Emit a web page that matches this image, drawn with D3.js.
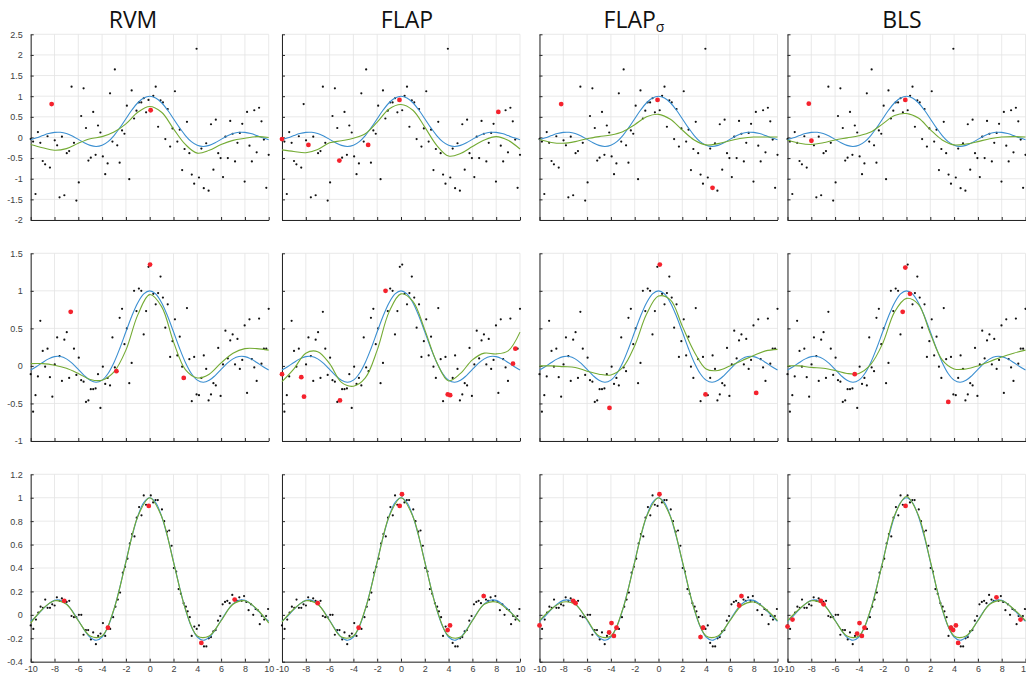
<!DOCTYPE html>
<html>
<head>
<meta charset="utf-8">
<script src="https://cdn.jsdelivr.net/npm/d3@7"></script>
<style>
  body { margin: 0; background: #fff; }
</style>
</head>
<body>
<div id="mainChart"></div>
<script>
const width = 1026;
const height = 676;

// ---- data ----
const titles = ["RVM", "FLAP", "FLAP", "BLS"];
const titleSubs = ["", "", "σ", ""];

const xTicks = [-10, -8, -6, -4, -2, 0, 2, 4, 6, 8, 10];
const yTicksRow1 = [-2, -1.5, -1, -0.5, 0, 0.5, 1, 1.5, 2, 2.5];
const yTicksRow2 = [-1, -0.5, 0, 0.5, 1, 1.5];
const yTicksRow3 = [-0.4, -0.2, 0, 0.2, 0.4, 0.6, 0.8, 1, 1.2];

// true function (blue), sampled every 0.5
const sincX = [-10, -9.5, -9, -8.5, -8, -7.5, -7, -6.5, -6, -5.5, -5, -4.5, -4, -3.5, -3, -2.5, -2, -1.5, -1, -0.5,
  0, 0.5, 1, 1.5, 2, 2.5, 3, 3.5, 4, 4.5, 5, 5.5, 6, 6.5, 7, 7.5, 8, 8.5, 9, 9.5, 10];
const sincY = [-0.0544, -0.0079, 0.0458, 0.0939, 0.1237, 0.1251, 0.0939, 0.0331, -0.0466, -0.1282, -0.1918, -0.2172,
  -0.1892, -0.1002, 0.0470, 0.2394, 0.4546, 0.6650, 0.8415, 0.9589,
  1, 0.9589, 0.8415, 0.6650, 0.4546, 0.2394, 0.0470, -0.1002, -0.1892, -0.2172, -0.1918, -0.1282,
  -0.0466, 0.0331, 0.0939, 0.1251, 0.1237, 0.0939, 0.0458, -0.0079, -0.0544];

// fitted curves (green), sampled every 1
const fitX = [-10, -9, -8, -7, -6, -5, -4, -3, -2, -1, 0, 1, 2, 3, 4, 5, 6, 7, 8, 9, 10];
const fitRow1 = [
  [-0.17, -0.25, -0.31, -0.27, -0.14, -0.03, 0.02, 0.13, 0.33, 0.61, 0.75, 0.61, 0.21, -0.17, -0.38, -0.31, -0.17, -0.07, -0.02, 0.02, 0.00],
  [-0.30, -0.34, -0.37, -0.29, -0.13, -0.08, -0.02, 0.09, 0.37, 0.69, 0.80, 0.66, 0.25, -0.19, -0.45, -0.39, -0.22, -0.06, 0.02, -0.07, -0.28],
  [-0.05, -0.12, -0.14, -0.10, -0.03, 0.02, 0.06, 0.14, 0.31, 0.50, 0.56, 0.44, 0.18, -0.06, -0.18, -0.15, -0.08, -0.02, 0.01, 0.01, 0.01],
  [-0.06, -0.14, -0.17, -0.13, -0.06, -0.01, 0.04, 0.13, 0.33, 0.53, 0.58, 0.47, 0.19, -0.06, -0.18, -0.16, -0.10, -0.03, 0.01, 0.02, 0.01]
];
const fitRow2 = [
  [0.03, 0.03, 0.01, -0.03, -0.10, -0.18, -0.19, -0.08, 0.21, 0.68, 0.95, 0.79, 0.32, -0.05, -0.16, -0.11, 0.04, 0.17, 0.23, 0.23, 0.21],
  [-0.21, -0.04, 0.17, 0.19, 0.03, -0.22, -0.27, -0.16, 0.21, 0.72, 0.96, 0.86, 0.48, 0.05, -0.20, -0.10, 0.08, 0.17, 0.16, 0.20, 0.45],
  [0.00, 0.00, -0.01, -0.02, -0.07, -0.11, -0.12, -0.02, 0.27, 0.69, 0.93, 0.88, 0.53, 0.19, -0.04, -0.06, 0.00, 0.07, 0.14, 0.20, 0.22],
  [0.00, 0.00, -0.02, -0.03, -0.06, -0.10, -0.10, 0.02, 0.30, 0.72, 0.90, 0.82, 0.43, 0.08, -0.04, -0.04, 0.00, 0.06, 0.12, 0.17, 0.21]
];
const fitRow3 = [
  [-0.07, 0.05, 0.12, 0.09, -0.05, -0.18, -0.18, 0.05, 0.45, 0.84, 1.00, 0.84, 0.45, 0.05, -0.18, -0.18, -0.05, 0.09, 0.12, 0.05, -0.07],
  [-0.06, 0.05, 0.12, 0.09, -0.05, -0.19, -0.18, 0.05, 0.45, 0.84, 1.00, 0.84, 0.45, 0.05, -0.18, -0.19, -0.05, 0.09, 0.11, 0.04, -0.06],
  [-0.05, 0.05, 0.11, 0.09, -0.04, -0.18, -0.18, 0.05, 0.45, 0.84, 1.00, 0.84, 0.46, 0.05, -0.18, -0.18, -0.05, 0.08, 0.11, 0.05, -0.05],
  [-0.05, 0.05, 0.12, 0.09, -0.05, -0.18, -0.18, 0.05, 0.45, 0.85, 1.01, 0.85, 0.46, 0.05, -0.18, -0.18, -0.05, 0.09, 0.12, 0.05, -0.05]
];

// noisy samples (black): rows 1 and 2 on an even grid from -10 to 10
const noisyRow1 = [
  -0.04, -0.10, -1.37, 0.13, -0.13, -0.57, -0.65, 0.03, -0.73, 0.81,
  -0.07, -0.19, -1.45, 0.02, -1.40, -0.38, -0.33, 1.23, -0.13, -1.53,
  -1.09, 0.52, 1.19, 0.23, -0.56, -0.49, 0.62, -0.42, 0.29, 0.12,
  -0.46, -0.89, -0.63, 1.07, -0.10, 1.65, -0.19, -0.61, 0.17, 0.09,
  0.77, -1.01, 1.14, 0.46, 0.65, 0.85, 0.85, 0.95, 0.61, 0.91,
  0.66, 1.01, 1.23, 0.26, 0.90, 0.85, -0.04, 0.69, -0.22, 0.22,
  1.12, -0.10, 0.19, -0.79, -0.28, 0.38, -0.38, -0.90, -1.12, 2.15,
  -0.97, -0.27, -1.23, -0.14, -1.29, 0.32, -0.78, 0.43, -0.38, -0.50,
  -0.96, 0.02, -0.50, 0.40, 0.09, -0.58, -0.13, 0.11, 0.33, -1.07,
  0.62, -0.20, -0.58, 0.66, -0.36, 0.72, 0.39, -0.05, -1.22, -0.42
];
const noisyRow2 = [
  -0.11, -0.61, -0.39, -0.14, 0.60, 0.20, -0.01, 0.23, -0.15, -0.41,
  0.02, 0.38, 0.13, -0.20, 0.35, 0.45, -0.16, 0.72, 0.23, -0.12,
  0.11, -0.19, -0.21, -0.48, -0.46, -0.31, -0.31, -0.30, -0.11, -0.56,
  -0.01, -0.24, -0.16, -0.26, 0.38, -0.02, -0.07, 0.64, 0.76, 0.29,
  0.50, -0.23, 0.04, 1.00, 0.73, 1.03, 1.00, 0.42, 0.73, 1.32,
  1.35, 0.96, 0.82, 0.97, 1.19, 0.91, 0.51, 0.82, 0.12, 0.33,
  0.62, 0.14, 0.39, -0.01, -0.16, 0.77, 0.09, -0.47, 0.12, -0.38,
  -0.39, -0.16, 0.14, -0.04, -0.46, -0.38, -0.23, -0.26, 0.24, -0.40,
  0.02, 0.47, 0.10, 0.34, 0.42, 0.02, 0.36, -0.04, 0.08, 0.54,
  -0.36, 0.62, 0.09, -0.02, -0.20, 0.63, 0.03, 0.23, 0.23, 0.76
];
// row 3 as [x, y] pairs
const noisyRow3 = [
  [-10, -0.09], [-9.78, -0.12], [-9.56, -0.04], [-9.36, 0.02], [-9.17, 0.07], [-8.97, 0.06], [-8.78, 0.13], [-8.58, 0.06],
  [-8.38, 0.06], [-8.19, 0.09], [-7.99, 0.08], [-7.80, 0.15], [-7.57, 0.12], [-7.38, 0.14], [-7.18, 0.12], [-6.98, 0.11],
  [-6.76, 0.12], [-6.57, -0.01], [-6.37, -0.02], [-6.17, -0.02], [-5.95, 0.00], [-5.75, 0.00], [-5.56, -0.17], [-5.36, -0.13],
  [-5.17, -0.13], [-4.94, -0.21], [-4.75, -0.15], [-4.52, -0.25], [-4.33, -0.18], [-4.13, -0.16], [-3.93, -0.07], [-3.74, -0.18],
  [-3.51, -0.11], [-3.32, -0.12], [-3.07, -0.02], [-2.88, 0.07], [-2.68, 0.13], [-2.49, 0.19], [-2.26, 0.36], [-2.07, 0.41],
  [-1.87, 0.48], [-1.67, 0.61], [-1.48, 0.69], [-1.28, 0.67], [-1.09, 0.83], [-0.89, 0.92], [-0.69, 0.85], [-0.50, 1.02],
  [-0.31, 0.94], [-0.08, 0.93], [0.09, 1.02], [0.29, 0.96], [0.49, 0.98], [0.68, 0.98], [1.03, 0.90], [1.22, 0.80],
  [1.45, 0.71], [1.64, 0.72], [1.84, 0.59], [2.03, 0.40], [2.23, 0.37], [2.43, 0.22], [2.62, 0.18], [2.85, 0.10],
  [3.04, 0.07], [3.19, 0.03], [3.37, -0.02], [3.53, -0.18], [3.75, -0.10], [3.95, -0.12], [4.14, -0.09], [4.34, -0.24],
  [4.56, -0.27], [4.76, -0.27], [4.96, -0.20], [5.15, -0.19], [5.35, -0.14], [5.54, -0.13], [5.74, -0.05], [5.93, -0.01],
  [6.13, 0.09], [6.33, 0.11], [6.52, 0.12], [6.72, 0.10], [6.94, 0.17], [7.14, 0.13], [7.33, 0.12], [7.53, 0.15],
  [7.73, 0.12], [7.93, 0.16], [8.12, 0.11], [8.31, 0.04], [8.52, 0.09], [8.70, 0.00], [8.90, 0.05], [9.08, 0.04],
  [9.25, -0.08], [9.42, -0.01], [9.62, -0.04], [9.78, -0.01], [9.95, 0.05]
];

// highlighted samples (red), [x, y] per panel
const redRow1 = [
  [[-8.24, 0.81], [0.08, 0.66]],
  [[-10, -0.04], [-7.78, -0.18], [-5.18, -0.56], [-2.76, -0.18], [-0.13, 0.91], [8.18, 0.62]],
  [[-8.18, 0.81], [-0.08, 0.91], [4.54, -1.22]],
  [[-8.21, 0.82], [-7.99, -0.08], [-0.10, 0.91]]
];
const redRow2 = [
  [[-6.64, 0.72], [-2.80, -0.07], [0.03, 1.35], [2.86, -0.16]],
  [[-10, -0.11], [-8.38, -0.15], [-8.15, -0.41], [-5.13, -0.46], [-1.30, 1.00], [3.93, -0.38], [4.13, -0.39], [9.41, 0.03], [9.61, 0.23]],
  [[-4.12, -0.56], [0.11, 1.35], [3.95, -0.38], [8.21, -0.36]],
  [[-4.35, -0.11], [-0.10, 1.31], [0.29, 0.96], [-0.32, 0.72], [3.51, -0.48]]
];
const redRow3 = [
  [[-7.18, 0.12], [-3.51, -0.11], [-0.08, 0.93], [4.34, -0.24], [7.14, 0.13]],
  [[-7.0, 0.10], [-3.56, -0.11], [-0.11, 0.93], [0.08, 1.03], [3.92, -0.13], [4.12, -0.09], [6.95, 0.16]],
  [[-10, -0.09], [-7.17, 0.12], [-6.97, 0.10], [-4.15, -0.15], [-3.95, -0.07], [-3.75, -0.18], [-3.53, -0.11],
   [0.08, 1.03], [3.53, -0.19], [3.75, -0.11], [6.78, 0.08], [6.97, 0.16]],
  [[-10, -0.10], [-9.58, -0.04], [-7.2, 0.12], [-6.97, 0.09], [-4.15, -0.16], [-3.95, -0.07], [-3.75, -0.18], [-3.53, -0.11],
   [-0.08, 0.93], [3.73, -0.11], [3.92, -0.13], [4.15, -0.09], [4.34, -0.24], [7.56, 0.15], [9.58, -0.04]]
];

// ---- layout ----
const colRanges = [[30.7, 268.7], [282, 520], [539.5, 777.5], [787.5, 1025.5]];
const titleCenters = [133, 407, 634, 902];

function onGrid(values) {
    return values.map((v, i) => [-10 + i * 20 / (values.length - 1), v]);
}

const rows = [
  { domain: [-2, 2.5], range: [220, 34.3], ticks: yTicksRow1, samples: onGrid(noisyRow1), fits: fitRow1, reds: redRow1 },
  { domain: [-1, 1.5], range: [441, 253.3], ticks: yTicksRow2, samples: onGrid(noisyRow2), fits: fitRow2, reds: redRow2 },
  { domain: [-0.4, 1.2], range: [661.7, 474.3], ticks: yTicksRow3, samples: noisyRow3, fits: fitRow3, reds: redRow3 }
];

const blue = "#3b8fd1";
const green = "#74ab34";
const red = "#f5222d";
const gridColor = "#e3e3e3";
const axisColor = "#262626";
const labelColor = "#404040";

const svg = d3.create("svg")
    .attr("width", width)
    .attr("height", height)
    .style("font-family", "'Liberation Sans', Arial, sans-serif");

svg.append("rect").attr("width", width).attr("height", height).attr("fill", "#fff");

// titles
titles.forEach((t, c) => {
    const txt = svg.append("text")
        .attr("x", titleCenters[c])
        .attr("y", 28)
        .attr("text-anchor", "middle")
        .style("font-family", "'Open Sans', sans-serif")
        .style("font-size", "23px")
        .attr("fill", "#111")
        .text(t);
    if (titleSubs[c]) {
        txt.append("tspan")
            .attr("dy", 4)
            .style("font-size", "14px")
            .text(titleSubs[c]);
    }
});

rows.forEach((row, r) => {
    const yScale = d3.scaleLinear().domain(row.domain).range(row.range);

    colRanges.forEach((cr, c) => {
        const xScale = d3.scaleLinear().domain([-10, 10]).range(cr);
        const g = svg.append("g");

        // grid
        g.append("g").selectAll("line")
            .data(xTicks)
            .join("line")
            .attr("x1", d => xScale(d)).attr("x2", d => xScale(d))
            .attr("y1", row.range[0]).attr("y2", row.range[1])
            .attr("stroke", gridColor).attr("stroke-width", 0.8);
        g.append("g").selectAll("line")
            .data(row.ticks)
            .join("line")
            .attr("x1", cr[0]).attr("x2", cr[1])
            .attr("y1", d => yScale(d)).attr("y2", d => yScale(d))
            .attr("stroke", gridColor).attr("stroke-width", 0.8);

        // axes
        const yAxis = d3.axisLeft(yScale)
            .tickValues(row.ticks)
            .tickSizeInner(-3)
            .tickSizeOuter(0)
            .tickPadding(8)
            .tickFormat(c === 0 ? (d => String(d)) : "");
        g.append("g")
            .attr("transform", `translate(${cr[0]},0)`)
            .call(yAxis)
            .call(a => a.select(".domain").attr("stroke", axisColor))
            .call(a => a.selectAll(".tick line").attr("stroke", axisColor))
            .call(a => a.selectAll("text").attr("fill", labelColor).style("font-size", "9px"));

        const xAxis = d3.axisBottom(xScale)
            .tickValues(xTicks)
            .tickSizeInner(-3)
            .tickSizeOuter(0)
            .tickPadding(4)
            .tickFormat(r === 2 ? (d => String(d)) : "");
        g.append("g")
            .attr("transform", `translate(0,${row.range[0]})`)
            .call(xAxis)
            .call(a => a.select(".domain").attr("stroke", axisColor))
            .call(a => a.selectAll(".tick line").attr("stroke", axisColor))
            .call(a => a.selectAll("text").attr("fill", labelColor).style("font-size", "9px"));

        // noisy samples
        g.append("g").selectAll("circle")
            .data(row.samples)
            .join("circle")
            .attr("cx", d => xScale(d[0]))
            .attr("cy", d => yScale(d[1]))
            .attr("r", 1.1)
            .attr("fill", "#111");

        const line = d3.line()
            .x(d => xScale(d[0]))
            .y(d => yScale(d[1]))
            .curve(d3.curveCatmullRom.alpha(0.5));

        // true function
        g.append("path")
            .datum(sincX.map((x, i) => [x, sincY[i]]))
            .attr("fill", "none")
            .attr("stroke", blue)
            .attr("stroke-width", 1.1)
            .attr("d", line);

        // fitted curve
        g.append("path")
            .datum(fitX.map((x, i) => [x, row.fits[c][i]]))
            .attr("fill", "none")
            .attr("stroke", green)
            .attr("stroke-width", 1.1)
            .attr("d", line);

        // highlighted samples
        g.append("g").selectAll("circle")
            .data(row.reds[c])
            .join("circle")
            .attr("cx", d => xScale(d[0]))
            .attr("cy", d => yScale(d[1]))
            .attr("r", 2.4)
            .attr("fill", red);
    });
});

document.getElementById("mainChart").append(svg.node());
</script>
</body>
</html>
